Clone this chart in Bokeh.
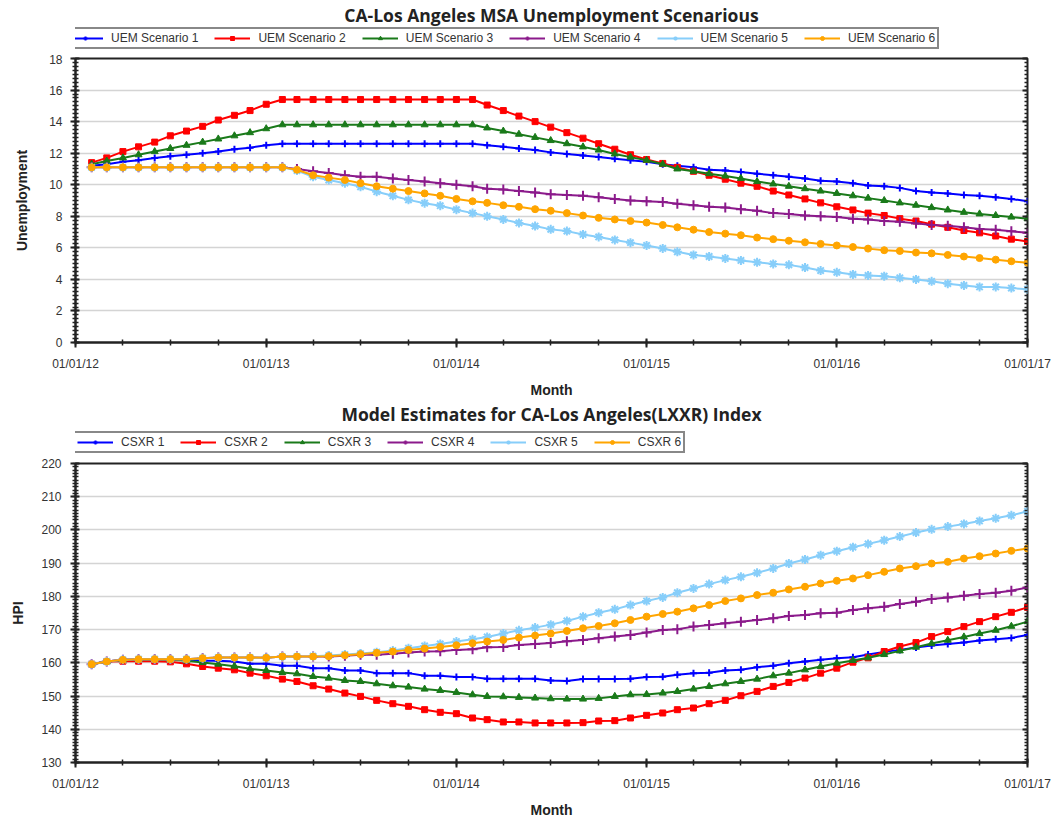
import pandas as pd
from bokeh.plotting import figure
from bokeh.models import (Range1d, FixedTicker, SingleIntervalTicker, DatetimeTickFormatter,
                          LinearAxis, Legend, LegendItem, Label, CustomJSTickFormatter)
from bokeh.layouts import column
from bokeh.embed import file_html
from bokeh.resources import INLINE

# ---------------- data ----------------
months = pd.date_range("2012-02-01", periods=60, freq="MS")
year_ticks = ["2012-01-01", "2013-01-01", "2014-01-01", "2015-01-01", "2016-01-01", "2017-01-01"]

uem_title = "CA-Los Angeles MSA Unemployment Scenarious"
uem_names = ["UEM Scenario 1", "UEM Scenario 2", "UEM Scenario 3",
             "UEM Scenario 4", "UEM Scenario 5", "UEM Scenario 6"]
uem1 = [11.2, 11.3, 11.45, 11.55, 11.7, 11.8, 11.9, 12.0, 12.1, 12.25, 12.35, 12.5, 12.6,
        12.6, 12.6, 12.6, 12.6, 12.6, 12.6, 12.6, 12.6, 12.6, 12.6, 12.6, 12.6,
        12.5, 12.4, 12.3, 12.2, 12.05, 11.95, 11.85, 11.75, 11.65, 11.55, 11.45,
        11.3, 11.2, 11.1, 10.95, 10.9, 10.8, 10.7, 10.6, 10.5, 10.4, 10.25, 10.2,
        10.1, 9.95, 9.9, 9.8, 9.6, 9.5, 9.45, 9.35, 9.3, 9.2, 9.1, 8.95]
uem2 = [11.4, 11.7, 12.1, 12.4, 12.7, 13.1, 13.4, 13.7, 14.1, 14.4, 14.7, 15.1, 15.4,
        15.4, 15.4, 15.4, 15.4, 15.4, 15.4, 15.4, 15.4, 15.4, 15.4, 15.4, 15.4,
        15.05, 14.7, 14.35, 14.0, 13.65, 13.3, 12.95, 12.6, 12.25, 11.9, 11.6,
        11.35, 11.1, 10.85, 10.6, 10.35, 10.1, 9.9, 9.6, 9.35, 9.1, 8.85, 8.6,
        8.4, 8.2, 8.05, 7.85, 7.7, 7.5, 7.3, 7.1, 6.95, 6.75, 6.55, 6.4]
uem3 = [11.3, 11.5, 11.7, 11.9, 12.1, 12.3, 12.5, 12.7, 12.9, 13.1, 13.3, 13.55, 13.8,
        13.8, 13.8, 13.8, 13.8, 13.8, 13.8, 13.8, 13.8, 13.8, 13.8, 13.8, 13.8,
        13.6, 13.4, 13.2, 13.0, 12.8, 12.6, 12.4, 12.2, 11.95, 11.75, 11.55,
        11.3, 11.0, 10.85, 10.7, 10.55, 10.4, 10.2, 10.05, 9.9, 9.75, 9.6, 9.45,
        9.3, 9.15, 9.0, 8.85, 8.7, 8.55, 8.4, 8.25, 8.15, 8.05, 7.95, 7.85]
uem4 = [11.1, 11.1, 11.1, 11.1, 11.1, 11.1, 11.1, 11.1, 11.1, 11.1, 11.1, 11.1, 11.1,
        11.0, 10.85, 10.75, 10.6, 10.5, 10.5, 10.4, 10.3, 10.2, 10.1, 10.0, 9.9,
        9.75, 9.7, 9.6, 9.5, 9.4, 9.35, 9.3, 9.2, 9.1, 9.0, 8.95,
        8.9, 8.8, 8.7, 8.6, 8.55, 8.45, 8.35, 8.2, 8.15, 8.05, 8.0, 7.95,
        7.85, 7.8, 7.7, 7.65, 7.55, 7.45, 7.4, 7.3, 7.2, 7.15, 7.05, 6.95]
uem5 = [11.1, 11.1, 11.1, 11.1, 11.1, 11.1, 11.1, 11.1, 11.1, 11.1, 11.1, 11.1, 11.1,
        10.9, 10.5, 10.3, 10.1, 9.87, 9.56, 9.3, 9.04, 8.83, 8.67, 8.42, 8.2,
        8.0, 7.8, 7.58, 7.38, 7.17, 7.06, 6.85, 6.69, 6.5, 6.33, 6.15,
        5.96, 5.75, 5.55, 5.45, 5.33, 5.2, 5.08, 4.98, 4.92, 4.75, 4.56, 4.45,
        4.31, 4.25, 4.2, 4.1, 4.0, 3.88, 3.73, 3.62, 3.52, 3.52, 3.45, 3.38]
uem6 = [11.1, 11.1, 11.1, 11.1, 11.1, 11.1, 11.1, 11.1, 11.1, 11.1, 11.1, 11.1, 11.1,
        10.95, 10.6, 10.45, 10.3, 10.1, 9.9, 9.75, 9.6, 9.45, 9.3, 9.1, 8.95,
        8.85, 8.7, 8.6, 8.45, 8.35, 8.2, 8.05, 7.9, 7.8, 7.7, 7.6,
        7.45, 7.3, 7.15, 7.0, 6.9, 6.8, 6.65, 6.55, 6.45, 6.35, 6.25, 6.15,
        6.05, 5.95, 5.85, 5.8, 5.7, 5.65, 5.55, 5.45, 5.35, 5.25, 5.15, 5.05]

csxr_title = "Model Estimates for CA-Los Angeles(LXXR) Index"
csxr_names = ["CSXR 1", "CSXR 2", "CSXR 3", "CSXR 4", "CSXR 5", "CSXR 6"]
csxr1 = [159.6, 160.4, 160.9, 161.1, 161.1, 161.1, 161.1, 160.6, 160.6, 160.4, 159.7, 159.7,
         159.1, 159.1, 158.4, 158.4, 157.7, 157.7, 156.9, 156.9, 156.9, 156.1, 156.1, 155.7,
         155.7, 155.2, 155.2, 155.2, 155.2, 154.7, 154.5, 155.1, 155.1, 155.1, 155.2, 155.7,
         155.8, 156.4, 156.9, 157.0, 157.7, 157.9, 158.7, 159.1, 159.9, 160.4, 160.9, 161.4,
         161.7, 162.5, 163.3, 163.9, 164.6, 165.2, 165.7, 166.1, 166.7, 167.1, 167.5, 168.4]
csxr2 = [159.6, 160.4, 160.5, 160.5, 160.5, 160.3, 159.7, 158.9, 158.4, 157.9, 156.9, 156.1,
         155.1, 154.4, 153.1, 152.1, 150.9, 149.9, 148.7, 147.7, 146.9, 145.9, 145.1, 144.7,
         143.4, 142.9, 142.2, 142.2, 141.9, 141.9, 141.9, 142.0, 142.5, 142.6, 143.4, 144.2,
         144.9, 145.9, 146.4, 147.7, 148.7, 150.1, 151.4, 152.9, 154.1, 155.4, 156.9, 158.4,
         160.2, 161.5, 163.4, 164.9, 166.1, 167.9, 169.4, 170.9, 172.4, 173.9, 175.2, 176.7]
csxr3 = [159.6, 160.4, 160.8, 161.0, 161.0, 160.9, 160.6, 160.1, 159.6, 159.0, 158.2, 157.7,
         157.1, 156.7, 155.9, 155.4, 154.7, 154.4, 153.7, 153.1, 152.7, 152.1, 151.7, 151.1,
         150.4, 149.9, 149.8, 149.6, 149.4, 149.2, 149.1, 149.1, 149.3, 149.9, 150.4, 150.5,
         150.9, 151.4, 152.1, 152.9, 153.7, 154.4, 155.1, 156.1, 156.9, 157.9, 158.9, 159.9,
         160.7, 161.5, 162.5, 163.6, 164.7, 165.8, 166.8, 167.8, 168.8, 169.8, 171.0, 172.4]
csxr4 = [159.6, 160.4, 160.9, 161.1, 161.1, 161.1, 161.1, 161.4, 161.6, 161.6, 161.6, 161.5,
         161.9, 161.9, 161.9, 161.9, 162.1, 162.4, 162.4, 162.7, 163.1, 163.4, 163.5, 163.9,
         164.1, 164.7, 164.8, 165.4, 165.7, 166.0, 166.5, 166.9, 167.4, 167.9, 168.4, 169.1,
         169.9, 170.1, 170.9, 171.4, 171.9, 172.4, 172.9, 173.4, 174.1, 174.4, 174.9, 175.1,
         175.9, 176.4, 176.9, 177.7, 178.4, 179.2, 179.7, 180.2, 180.7, 181.1, 181.7, 182.7]
csxr5 = [159.6, 160.4, 160.9, 161.1, 161.1, 161.1, 161.1, 161.4, 161.6, 161.6, 161.6, 161.5,
         161.9, 161.9, 162.0, 162.2, 162.5, 162.8, 163.2, 163.7, 164.4, 165.1, 165.7, 166.4,
         167.1, 167.8, 168.8, 169.8, 170.6, 171.5, 172.6, 173.9, 175.1, 176.1, 177.4, 178.6,
         179.7, 181.1, 182.4, 183.7, 184.9, 185.9, 187.1, 188.4, 189.9, 191.1, 192.4, 193.6,
         194.8, 195.8, 196.9, 198.0, 199.2, 200.2, 201.0, 201.8, 202.7, 203.5, 204.4, 205.6]
csxr6 = [159.6, 160.4, 160.9, 161.1, 161.1, 161.1, 161.1, 161.4, 161.6, 161.6, 161.6, 161.5,
         161.9, 161.9, 161.9, 162.0, 162.3, 162.6, 163.0, 163.4, 163.9, 164.3, 164.8, 165.3,
         165.9, 166.4, 166.9, 167.6, 168.2, 168.8, 169.6, 170.4, 171.1, 171.9, 172.9, 173.9,
         174.7, 175.4, 176.4, 177.4, 178.6, 179.4, 180.4, 181.1, 182.1, 182.9, 183.9, 184.7,
         185.4, 186.4, 187.4, 188.4, 189.1, 189.9, 190.4, 191.4, 192.1, 192.9, 193.7, 194.4]

# ---------------- styles ----------------
colors = ["#0000ff", "#ff0000", "#1a7a1a", "#8b1a8b", "#87cefa", "#ffa500"]
markers = ["cross", "square", "triangle", "cross", "asterisk", "circle"]
msizes = [7, 6, 7, 10, 9, 7]
W = 1060
LEGEND_SHIFT = 76   # measured offset of Legend tuple locations in this renderer

TICK_FONT = "Liberation Sans"
LBL_FONT = "Liberation Sans"

year_ms = [pd.Timestamp(d).value // 10**6 for d in year_ticks]
quarter_ms = [pd.Timestamp(d).value // 10**6
              for d in pd.date_range(year_ticks[0], year_ticks[-1], freq="QS")]
fmt = "%m/%d/%y"


def add_series(p, vals, c, m, s):
    xs = list(months[:len(vals)])
    lr = p.line(xs, vals, line_color=c, line_width=2)
    sr = p.scatter(xs, vals, marker=m, size=s, line_color=c, fill_color=c,
                   line_width=2 if m in ("cross", "asterisk") else 1)
    return lr, sr


def header(title, names, series, h, title_y, legend_x, legend_bottom):
    """Title + legend strip. Its frame spans the strip in pixel units, so the series
    drawn here (only to feed the legend swatches) fall outside its ranges."""
    p = figure(width=W, height=h, output_backend="svg", toolbar_location=None,
               x_axis_location=None, y_axis_location=None,
               min_border_left=0, min_border_right=0, min_border_top=0, min_border_bottom=0)
    p.title = None
    p.outline_line_color = None
    p.grid.visible = False
    p.x_range = Range1d(0, W)
    p.y_range = Range1d(0, h)
    p.add_layout(Label(x=W / 2, y=title_y, text=title, text_align="center",
                       text_baseline="middle", text_font="Open Sans",
                       text_font_style="bold", text_font_size="17.5px",
                       text_color="#222222"))
    items = []
    for name, vals, c, m, s in zip(names, series, colors, markers, msizes):
        lr, sr = add_series(p, vals, c, m, s)
        items.append(LegendItem(label=name, renderers=[lr, sr]))
    leg = Legend(items=items, orientation="horizontal",
                 location=(legend_x - LEGEND_SHIFT, legend_bottom),
                 border_line_color="#111111", border_line_width=2,
                 background_fill_color="white", padding=2, spacing=16,
                 margin=0, label_standoff=8, glyph_width=36, glyph_height=10,
                 label_height=10, label_text_font=LBL_FONT,
                 label_text_font_size="12px", label_text_color="#333333")
    p.add_layout(leg, "center")
    return p


def chart(series, ylo, yhi, yint, nminor, ylabel, h, left, right, top, bottom,
          ylab_standoff, yax_standoff):
    p = figure(width=W, height=h, x_axis_type="datetime", output_backend="svg",
               toolbar_location=None, min_border_left=left, min_border_right=right,
               min_border_top=top, min_border_bottom=bottom)
    p.title = None
    p.x_range = Range1d(pd.Timestamp(year_ticks[0]), pd.Timestamp(year_ticks[-1]))
    p.y_range = Range1d(ylo, yhi)
    p.background_fill_color = "white"
    p.outline_line_color = "#222222"
    p.outline_line_width = 2

    xt = FixedTicker(ticks=year_ms, minor_ticks=quarter_ms)
    xf = DatetimeTickFormatter(years=fmt, months=fmt, days=fmt, hours=fmt,
                               minutes=fmt, seconds=fmt, milliseconds=fmt,
                               microseconds=fmt, hourmin=fmt, minsec=fmt)
    yt = SingleIntervalTicker(interval=yint, num_minor_ticks=nminor)

    xa = p.xaxis[0]
    xa.ticker = xt
    xa.formatter = xf
    xa.axis_label = "Month"
    ya = p.yaxis[0]
    ya.ticker = yt
    ya.axis_label = ylabel
    for a in (xa, ya):
        a.axis_line_width = 2
        a.axis_line_color = "#222222"
        a.major_tick_line_color = "#222222"
        a.minor_tick_line_color = "#222222"
        a.major_tick_line_width = 2
        a.minor_tick_line_width = 1.5
        a.major_tick_in = 4
        a.major_tick_out = 5
        a.minor_tick_in = 3
        a.minor_tick_out = 3
        a.major_label_text_font = TICK_FONT
        a.major_label_text_font_size = "12px"
        a.major_label_text_color = "#333333"
        a.axis_label_text_font = LBL_FONT
        a.axis_label_text_font_style = "bold"
        a.axis_label_text_font_size = "14px"
        a.axis_label_text_color = "#222222"
    xa.major_label_standoff = 9
    xa.axis_label_standoff = 8
    ya.major_label_standoff = yax_standoff
    ya.axis_label_standoff = ylab_standoff

    # right axis: ticks only
    ra = LinearAxis(ticker=yt, formatter=CustomJSTickFormatter(code="return ''"))
    ra.axis_line_color = None
    ra.major_tick_line_color = "#222222"
    ra.minor_tick_line_color = "#222222"
    ra.major_tick_line_width = 2
    ra.minor_tick_line_width = 1.5
    ra.major_tick_in = 5
    ra.major_tick_out = 0
    ra.minor_tick_in = 3
    ra.minor_tick_out = 0
    ra.major_label_standoff = 0
    p.add_layout(ra, "right")

    p.xgrid.grid_line_color = None
    p.ygrid.grid_line_color = "#d4d4d4"
    p.ygrid.grid_line_width = 1.5

    for vals, c, m, s in zip(series, colors, markers, msizes):
        add_series(p, vals, c, m, s)
    return p


uem_series = [uem1, uem2, uem3, uem4, uem5, uem6]
csxr_series = [csxr1, csxr2, csxr3, csxr4, csxr5, csxr6]

h1 = header(uem_title, uem_names, uem_series, 54, 40, 64, 5)
p1 = chart(uem_series, 0, 18, 2, 8, "Unemployment",
           346, 66, 33, 4, 52, 16, 8)
h2 = header(csxr_title, csxr_names, csxr_series, 56, 43, 74, 3)
p2 = chart(csxr_series, 130, 220, 10, 10, "HPI",
           364, 75, 30, 7, 57, 12, 9)

layout = column(h1, p1, h2, p2, spacing=0)
open("out.html", "w").write(file_html(layout, INLINE))
